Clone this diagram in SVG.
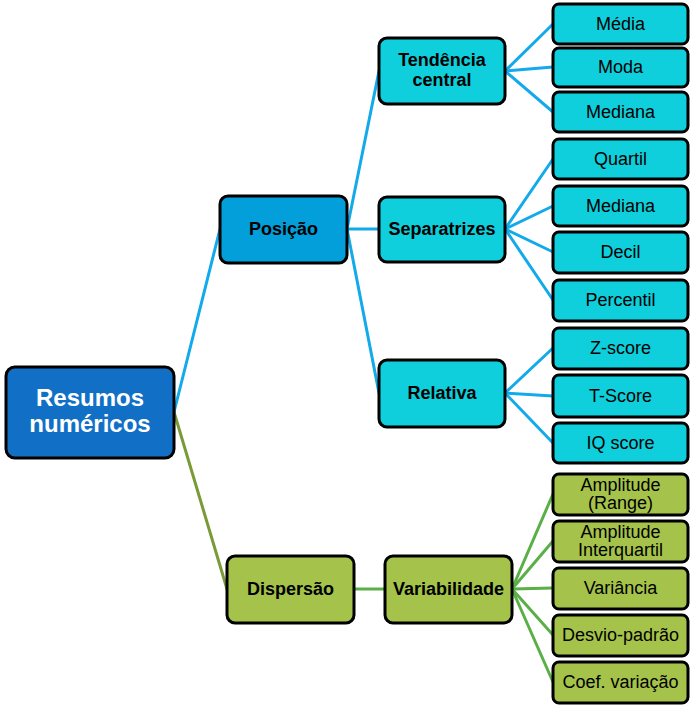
<svg xmlns="http://www.w3.org/2000/svg" width="692" height="709" viewBox="0 0 692 709">
<style>
.n{stroke:#000;stroke-width:3}
.root{fill:#1170C6}
.pos{fill:#039FDA}
.teal{fill:#0ECFDB}
.grn{fill:#A5C34A}
.c{fill:none;stroke-width:3;stroke-linecap:round}
.cb{stroke:#12AAEB}
.cg{stroke:#5BAF47}
.co{stroke:#7A9A38}
text{font-family:"Liberation Sans",Arial,sans-serif;font-size:18px;fill:#000;text-anchor:middle}
.b{font-weight:bold}
.rt{font-size:24px;font-weight:bold;fill:#fff}
</style>
<rect width="692" height="709" fill="#fff"/>
<g id="connectors">
<line class="c cb" x1="174" y1="412" x2="220" y2="229"/>
<line class="c co" x1="174" y1="412" x2="227" y2="589"/>
<line class="c cb" x1="347" y1="229" x2="379" y2="71"/>
<line class="c cb" x1="347" y1="229" x2="379" y2="229"/>
<line class="c cb" x1="347" y1="229" x2="379" y2="393"/>
<line class="c cb" x1="505" y1="71" x2="553" y2="24"/>
<line class="c cb" x1="505" y1="71" x2="553" y2="67"/>
<line class="c cb" x1="505" y1="71" x2="553" y2="112"/>
<line class="c cb" x1="505" y1="229" x2="553" y2="159"/>
<line class="c cb" x1="505" y1="229" x2="553" y2="206"/>
<line class="c cb" x1="505" y1="229" x2="553" y2="252"/>
<line class="c cb" x1="505" y1="229" x2="553" y2="300"/>
<line class="c cb" x1="505" y1="393" x2="553" y2="348"/>
<line class="c cb" x1="505" y1="393" x2="553" y2="396"/>
<line class="c cb" x1="505" y1="393" x2="553" y2="443"/>
<line class="c cg" x1="354" y1="589" x2="385" y2="589"/>
<line class="c cg" x1="512" y1="589" x2="553" y2="494"/>
<line class="c cg" x1="512" y1="589" x2="553" y2="541"/>
<line class="c cg" x1="512" y1="589" x2="553" y2="588"/>
<line class="c cg" x1="512" y1="589" x2="553" y2="635"/>
<line class="c cg" x1="512" y1="589" x2="553" y2="682"/>
</g>
<g id="resumos"><rect class="n root" x="6" y="367" width="168" height="91" rx="9"/><text class="rt" x="90" y="406">Resumos</text><text class="rt" x="90" y="432">numéricos</text></g>
<g id="posicao"><rect class="n pos" x="220" y="196" width="127" height="67" rx="8"/><text class="b" x="283.5" y="235">Posição</text></g>
<g id="dispersao"><rect class="n grn" x="227" y="556" width="127" height="67" rx="8"/><text class="b" x="290.5" y="595">Dispersão</text></g>
<g id="tendencia"><rect class="n teal" x="379" y="38" width="126" height="66" rx="8"/><text class="b" x="442" y="66">Tendência</text><text class="b" x="442" y="86">central</text></g>
<g id="separatrizes"><rect class="n teal" x="379" y="197" width="126" height="65" rx="8"/><text class="b" x="442" y="235">Separatrizes</text></g>
<g id="relativa"><rect class="n teal" x="379" y="360" width="126" height="67" rx="8"/><text class="b" x="442" y="399">Relativa</text></g>
<g id="variabilidade"><rect class="n grn" x="385" y="556" width="127" height="67" rx="8"/><text class="b" x="448.5" y="595">Variabilidade</text></g>
<g id="media"><rect class="n teal" x="553" y="4" width="135" height="40" rx="6"/><text x="620.5" y="30">Média</text></g>
<g id="moda"><rect class="n teal" x="553" y="48" width="135" height="39" rx="6"/><text x="620.5" y="73">Moda</text></g>
<g id="mediana1"><rect class="n teal" x="553" y="92" width="135" height="40" rx="6"/><text x="620.5" y="118">Mediana</text></g>
<g id="quartil"><rect class="n teal" x="553" y="139" width="135" height="40" rx="6"/><text x="620.5" y="165">Quartil</text></g>
<g id="mediana2"><rect class="n teal" x="553" y="186" width="135" height="40" rx="6"/><text x="620.5" y="212">Mediana</text></g>
<g id="decil"><rect class="n teal" x="553" y="232" width="135" height="41" rx="6"/><text x="620.5" y="258">Decil</text></g>
<g id="percentil"><rect class="n teal" x="553" y="280" width="135" height="41" rx="6"/><text x="620.5" y="306">Percentil</text></g>
<g id="zscore"><rect class="n teal" x="553" y="328" width="135" height="41" rx="6"/><text x="620.5" y="354">Z-score</text></g>
<g id="tscore"><rect class="n teal" x="553" y="375" width="135" height="42" rx="6"/><text x="620.5" y="402">T-Score</text></g>
<g id="iqscore"><rect class="n teal" x="553" y="423" width="135" height="40" rx="6"/><text x="620.5" y="449">IQ score</text></g>
<g id="amplitude"><rect class="n grn" x="553" y="474" width="135" height="41" rx="6"/><text x="620.5" y="490.5">Amplitude</text><text x="620.5" y="509">(Range)</text></g>
<g id="interquartil"><rect class="n grn" x="553" y="521" width="135" height="41" rx="6"/><text x="620.5" y="537.5">Amplitude</text><text x="620.5" y="556">Interquartil</text></g>
<g id="variancia"><rect class="n grn" x="553" y="568" width="135" height="41" rx="6"/><text x="620.5" y="594">Variância</text></g>
<g id="desvio"><rect class="n grn" x="553" y="615" width="135" height="41" rx="6"/><text x="620.5" y="641">Desvio-padrão</text></g>
<g id="coef"><rect class="n grn" x="553" y="662" width="135" height="41" rx="6"/><text x="620.5" y="688">Coef. variação</text></g>
</svg>
